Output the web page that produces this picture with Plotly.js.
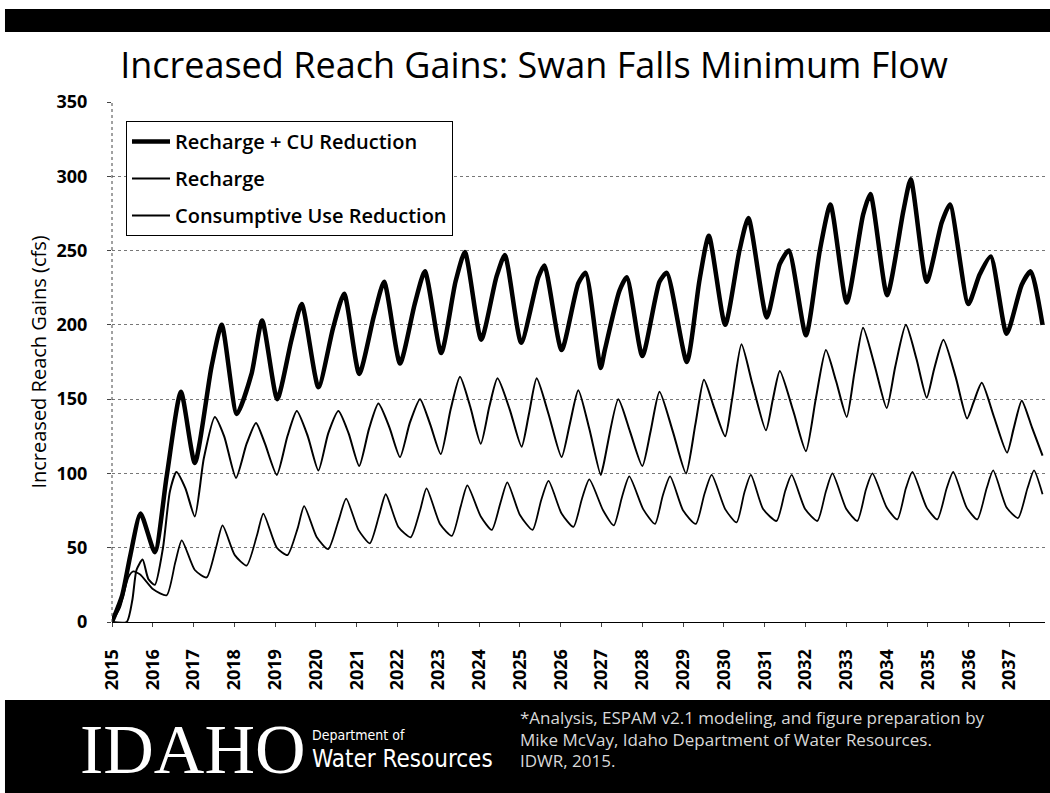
<!DOCTYPE html>
<html>
<head>
<meta charset="utf-8">
<script src="https://cdn.plot.ly/plotly-3.0.1.min.js"></script>
<style>html,body{margin:0;padding:0;background:#fff;}</style>
</head>
<body>
<div id="chart" style="width:1050px;height:793px;"></div>
<script>
// ---- Data (decimal years, cfs) ----
const yearTicks = [2015,2016,2017,2018,2019,2020,2021,2022,2023,2024,2025,2026,2027,2028,2029,2030,2031,2032,2033,2034,2035,2036,2037];
const yearLabels = ["2015","2016","2017","2018","2019","2020","2021","2022","2023","2024","2025","2026","2027","2028","2029","2030","2031","2032","2033","2034","2035","2036","2037"];

const totalYears = [2015.00,2015.25,2015.45,2015.70,2016.05,2016.34,2016.69,2017.03,2017.44,2017.69,2018.06,2018.42,2018.68,2019.05,2019.40,2019.65,2020.06,2020.42,2020.69,2021.06,2021.42,2021.67,2022.06,2022.42,2022.67,2023.07,2023.42,2023.65,2024.05,2024.42,2024.63,2025.03,2025.45,2025.60,2026.02,2026.43,2026.61,2026.98,2027.08,2027.44,2027.62,2028.00,2028.42,2028.60,2029.09,2029.40,2029.63,2030.03,2030.38,2030.60,2031.05,2031.37,2031.59,2032.01,2032.35,2032.61,2033.01,2033.41,2033.59,2034.00,2034.40,2034.58,2034.97,2035.34,2035.54,2035.99,2036.27,2036.54,2036.93,2037.30,2037.52,2037.81];
const totalValues = [0,18,45,73,47,98,155,107,172,200,140,167,203,150,190,214,158,198,221,167,206,229,174,214,236,181,229,249,190,232,247,188,232,240,183,228,235,171,183,223,232,179,229,235,175,230,260,200,250,272,205,241,250,193,250,281,215,274,288,220,277,298,229,269,281,214,234,246,194,227,236,200];

const rechargeYears = [2015.00,2015.36,2015.50,2015.60,2015.75,2015.89,2016.05,2016.25,2016.42,2016.58,2016.80,2017.03,2017.25,2017.52,2017.75,2018.04,2018.30,2018.53,2018.75,2019.04,2019.30,2019.53,2019.80,2020.06,2020.30,2020.55,2020.80,2021.06,2021.30,2021.53,2021.80,2022.06,2022.30,2022.55,2022.80,2023.06,2023.30,2023.53,2023.78,2024.04,2024.25,2024.45,2024.75,2025.04,2025.22,2025.41,2025.70,2026.02,2026.22,2026.43,2026.70,2026.98,2027.05,2027.41,2027.70,2028.00,2028.20,2028.42,2028.75,2029.07,2029.30,2029.51,2029.75,2030.03,2030.20,2030.43,2030.70,2031.03,2031.20,2031.37,2031.70,2032.01,2032.25,2032.50,2032.75,2033.01,2033.20,2033.41,2033.70,2033.99,2034.20,2034.46,2034.72,2034.97,2035.15,2035.38,2035.68,2035.96,2036.12,2036.32,2036.62,2036.94,2037.10,2037.30,2037.55,2037.81];
const rechargeValues = [0,0,15,35,42,29,25,50,88,101,90,71,110,138,125,97,120,134,120,99,125,142,125,102,127,142,127,105,130,147,131,111,134,150,133,113,143,165,145,120,145,164,143,118,140,164,140,111,133,156,130,99,106,150,128,105,128,155,128,100,133,163,145,125,150,187,160,129,150,169,142,115,150,183,162,138,168,198,172,144,172,200,177,151,170,190,165,137,148,161,138,114,130,149,131,112];

const cuYears = [2015.00,2015.20,2015.40,2015.52,2015.69,2016.01,2016.34,2016.55,2016.71,2017.03,2017.32,2017.55,2017.71,2018.01,2018.30,2018.55,2018.71,2019.04,2019.30,2019.55,2019.71,2020.02,2020.30,2020.55,2020.74,2021.04,2021.32,2021.55,2021.71,2022.02,2022.32,2022.55,2022.71,2023.04,2023.33,2023.55,2023.71,2024.04,2024.31,2024.52,2024.69,2025.00,2025.31,2025.52,2025.70,2026.02,2026.31,2026.52,2026.70,2027.04,2027.30,2027.50,2027.68,2028.02,2028.31,2028.50,2028.68,2029.00,2029.31,2029.52,2029.70,2030.03,2030.31,2030.50,2030.66,2030.96,2031.29,2031.50,2031.66,2031.99,2032.29,2032.50,2032.66,2033.00,2033.27,2033.48,2033.64,2033.99,2034.25,2034.46,2034.62,2034.97,2035.23,2035.46,2035.62,2035.95,2036.21,2036.44,2036.60,2036.93,2037.21,2037.44,2037.60,2037.81];
const cuValues = [0,10,30,34,32,22,18,40,55,35,30,50,65,45,38,58,73,50,45,63,78,57,49,68,83,62,53,72,86,64,57,75,90,66,58,78,92,71,62,80,94,72,62,82,95,73,64,83,96,75,65,84,98,76,66,85,98,75,66,86,99,76,67,87,99,76,68,88,99,76,68,88,100,76,68,89,100,77,69,90,101,77,69,90,101,77,69,90,102,77,70,90,102,86];

const seriesNames = ["Recharge + CU Reduction","Recharge","Consumptive Use Reduction"];

const traces = [
  {x: totalYears, y: totalValues, name: seriesNames[0], legendgroup: "g1", type: "scatter", mode: "lines",
   line: {color: "#000", width: 4.5, shape: "spline", smoothing: 0.6}},
  {x: rechargeYears, y: rechargeValues, name: seriesNames[1], legendgroup: "g2", type: "scatter", mode: "lines",
   line: {color: "#000", width: 2, shape: "spline", smoothing: 0.6}},
  {x: cuYears, y: cuValues, name: seriesNames[2], legendgroup: "g3", type: "scatter", mode: "lines",
   line: {color: "#000", width: 1.8, shape: "spline", smoothing: 0.6}}
];

const white = "#ffffff";
const layout = {
  width: 1050, height: 793,
  margin: {l: 112, r: 5, t: 102, b: 171},
  paper_bgcolor: "#fff", plot_bgcolor: "#fff",
  showlegend: true,
  title: {
    text: "Increased Reach Gains: Swan Falls Minimum Flow",
    font: {family: "Open Sans, sans-serif", size: 36, weight: 500, color: "#000"},
    x: 0.5086, xanchor: "center", xref: "container",
    y: 0.918, yanchor: "middle", yref: "container"
  },
  xaxis: {
    range: [2015, 2037.87],
    tickmode: "array", tickvals: yearTicks, ticktext: yearLabels,
    tickangle: -90,
    tickfont: {family: "Open Sans, sans-serif", size: 18, weight: 700, color: "#000"},
    showgrid: false, zeroline: false,
    showline: true, linecolor: "#000", linewidth: 1,
    ticks: "outside", ticklen: 4, tickcolor: "#444",
    ticklabelstandoff: 15,
    fixedrange: true
  },
  yaxis: {
    range: [0, 350], dtick: 50, tick0: 0,
    tickfont: {family: "Open Sans, sans-serif", size: 18, weight: 700, color: "#000"},
    showgrid: true, gridcolor: "#777", griddash: "dot", gridwidth: 1,
    zeroline: false, showline: false,
    ticks: "outside", ticklen: 4, tickcolor: "#444",
    ticklabelstandoff: 16,
    title: {text: "Increased Reach Gains (cfs)", font: {family: "Open Sans, sans-serif", size: 20, color: "#000"}, standoff: 4},
    fixedrange: true
  },
  legend: {
    x: 0.015, y: 0.9635, xanchor: "left", yanchor: "top",
    bgcolor: "#fff", bordercolor: "#000", borderwidth: 1,
    font: {family: "Open Sans, sans-serif", size: 20, weight: 600, color: "#000"},
    traceorder: "grouped", tracegroupgap: 8, itemwidth: 38
  },
  shapes: [
    {type: "rect", xref: "paper", yref: "paper", x0: -0.1147, x1: 1.0054, y0: 1.1346, y1: 1.1788,
     fillcolor: "#000", line: {width: 0}, layer: "below"},
    {type: "rect", xref: "paper", yref: "paper", x0: -0.1147, x1: 1.0054, y0: -0.35, y1: -0.15,
     fillcolor: "#000", line: {width: 0}, layer: "below"},
    {type: "line", xref: "paper", yref: "paper", x0: 0, x1: 0, y0: 0, y1: 1,
     line: {color: "#444", width: 1, dash: "dot"}}
  ],
  annotations: [
    {text: "IDAHO", xref: "paper", yref: "paper", x: -0.0364, y: -0.246, xanchor: "left", yanchor: "middle",
     showarrow: false, font: {family: "Liberation Serif, Times New Roman, serif", size: 70, color: white}},
    {text: "Department of", xref: "paper", yref: "paper", x: 0.2122, y: -0.2173, xanchor: "left", yanchor: "middle",
     showarrow: false, font: {family: "DejaVu Sans Condensed, Liberation Sans Narrow, Roboto, sans-serif", size: 14, color: white}},
    {text: "Water Resources", xref: "paper", yref: "paper", x: 0.2122, y: -0.2625, xanchor: "left", yanchor: "middle",
     showarrow: false, font: {family: "DejaVu Sans Condensed, Liberation Sans Narrow, Roboto, sans-serif", size: 24, color: white}},
    {text: "*Analysis, ESPAM v2.1 modeling, and figure preparation by", xref: "paper", yref: "paper", x: 0.4352, y: -0.1827,
     xanchor: "left", yanchor: "middle", showarrow: false, font: {family: "Open Sans, sans-serif", size: 17, color: "#d8d8d8"}},
    {text: "Mike McVay, Idaho Department of Water Resources.", xref: "paper", yref: "paper", x: 0.4352, y: -0.225,
     xanchor: "left", yanchor: "middle", showarrow: false, font: {family: "Open Sans, sans-serif", size: 17, color: "#d8d8d8"}},
    {text: "IDWR, 2015.", xref: "paper", yref: "paper", x: 0.4352, y: -0.2673,
     xanchor: "left", yanchor: "middle", showarrow: false, font: {family: "Open Sans, sans-serif", size: 17, color: "#d8d8d8"}}
  ]
};

Plotly.newPlot("chart", traces, layout, {displayModeBar: false, staticPlot: true});
</script>
</body>
</html>
